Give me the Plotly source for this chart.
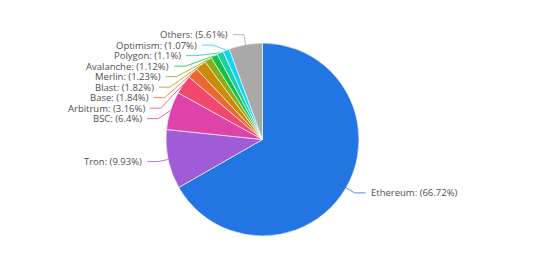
import math
import plotly.graph_objects as go

names = ["Ethereum", "Tron", "BSC", "Arbitrum", "Base", "Blast", "Merlin",
         "Avalanche", "Polygon", "Optimism", "Others"]
shares = [66.72, 9.93, 6.4, 3.16, 1.84, 1.82, 1.23, 1.12, 1.1, 1.07, 5.61]
colors = ["#2275e3", "#a05cd6", "#df43a9", "#f2476f", "#ea6933", "#c98b08",
          "#8dab12", "#12bf48", "#1dcfa2", "#12d6f5", "#a9a9a9"]

W, H = 554, 268
CX, CY, R = 262.5, 139.5, 96.5
LEN1, LEN2, GAP, SPACING = 10, 11, 4, 10.5
RL = R + LEN1


def px(x):
    return x / W


def py(y):
    return 1 - y / H


total = sum(shares)
items = []
cum = 0.0
for n, v, c in zip(names, shares, colors):
    mid = (cum + v / 2) / total * 2 * math.pi
    cum += v
    sx, sy = math.sin(mid), -math.cos(mid)
    items.append(dict(
        name=n, val=v, color=c, sx=sx,
        ex=CX + R * sx, ey=CY + R * sy,
        bx=CX + RL * sx, by=CY + RL * sy,
        side=1 if sx >= 0 else -1,
    ))

# avoid overlapping labels on each side (push downward)
for side in (-1, 1):
    grp = sorted([it for it in items if it["side"] == side], key=lambda d: d["by"])
    prev = None
    for it in grp:
        if prev is not None and it["by"] < prev + SPACING:
            it["by"] = prev + SPACING
            dy = it["by"] - CY
            it["bx"] = CX + side * math.sqrt(max(RL * RL - dy * dy, 0))
        prev = it["by"]

fig = go.Figure()
fig.add_trace(go.Pie(
    labels=names, values=shares, sort=False, direction="clockwise", rotation=0,
    textinfo="none", marker=dict(colors=colors, line=dict(color="white", width=0.6)),
    domain=dict(x=[px(CX - R), px(CX + R)], y=[py(CY + R), py(CY - R)]),
    showlegend=False,
))

annotations = []
shapes = []
for it in items:
    hx = it["bx"] + it["side"] * LEN2
    shapes.append(dict(
        type="path", xref="paper", yref="paper",
        path=f"M {px(it['ex'])},{py(it['ey'])} L {px(it['bx'])},{py(it['by'])} L {px(hx)},{py(it['by'])}",
        line=dict(color=it["color"], width=1), opacity=0.8,
    ))
    annotations.append(dict(
        xref="paper", yref="paper", x=px(hx + it["side"] * GAP), y=py(it["by"]),
        xanchor="left" if it["side"] > 0 else "right", yanchor="middle",
        text=f"{it['name']}: ({it['val']:g}%)", showarrow=False, borderpad=0,
        font=dict(family="Open Sans", size=9.5, color="#505050"),
    ))

fig.update_layout(
    width=W, height=H, margin=dict(l=0, r=0, t=0, b=0),
    paper_bgcolor="white", plot_bgcolor="white",
    annotations=annotations, shapes=shapes,
)
fig.write_html("out.html")
